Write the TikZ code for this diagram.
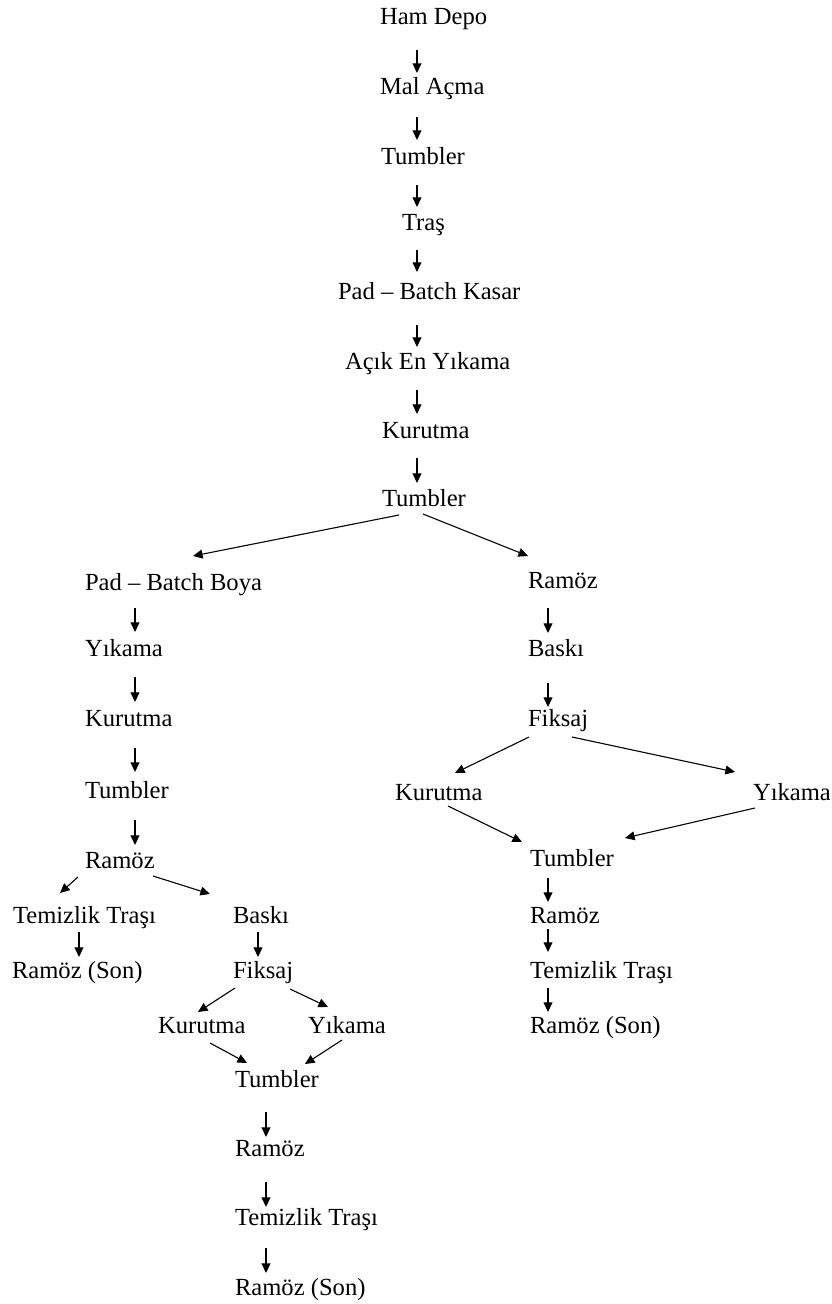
\documentclass[tikz,border=0pt]{standalone}
\usepackage{fontspec}
\setmainfont{Liberation Serif}
\usetikzlibrary{arrows.meta,calc}

% vertical step arrow: #1 from-node, #2 to-node, #3 x offset, #4 gap below source baseline, #5 gap above target baseline
\newcommand{\flowstep}[5]{%
  \draw[arr] ($(#1.base west)+(#3,#4)$) -- ($(#1.base west |- #2.base west)+(#3,-#5)$);}

\begin{document}
\begin{tikzpicture}[x=0.5pt,y=-0.5pt,
  lbl/.style={anchor=base west,inner sep=0pt,outer sep=0pt,
    font=\fontsize{12.3}{14}\selectfont},
  arr/.style={line width=0.55pt,-{Triangle[length=4.8pt,width=4.4pt]}}]
\useasboundingbox (0,0) rectangle (831,1304);

% main trunk
\node[lbl] (hamdepo) at (380,25) {Ham Depo};
\node[lbl] (malacma) at (380,95) {Mal Açma};
\node[lbl] (tumA) at (381,165) {Tumbler};
\node[lbl] (tras) at (402,231) {Traş};
\node[lbl] (kasar) at (338,300) {Pad – Batch Kasar};
\node[lbl] (acik) at (345,370) {Açık En Yıkama};
\node[lbl] (kurA) at (382,438) {Kurutma};
\node[lbl] (tumB) at (382,506) {Tumbler};

\flowstep{hamdepo}{malacma}{37}{25}{22}
\flowstep{malacma}{tumA}{37}{22}{25}
\flowstep{tumA}{tras}{36}{20}{24}
\flowstep{tras}{kasar}{15}{19}{28}
\flowstep{kasar}{acik}{79}{25}{23}
\flowstep{acik}{kurA}{72}{20}{24}
\flowstep{kurA}{tumB}{35}{20}{23}

% left branch
\node[lbl] (boya) at (85,590) {Pad – Batch Boya};
\node[lbl] (yikL) at (85,656) {Yıkama};
\node[lbl] (kurL) at (85,726) {Kurutma};
\node[lbl] (tumL) at (85,798) {Tumbler};
\node[lbl] (ramL) at (85,868) {Ramöz};
\node[lbl] (temL) at (13,923) {Temizlik Traşı};
\node[lbl] (sonL) at (12,978) {Ramöz (Son)};
\node[lbl] (baskiL) at (233,923) {Baskı};
\node[lbl] (fiksL) at (233,978) {Fiksaj};
\node[lbl] (kurLL) at (158,1033) {Kurutma};
\node[lbl] (yikLL) at (308,1033) {Yıkama};
\node[lbl] (tumLL) at (235,1087) {Tumbler};
\node[lbl] (ramLL) at (235,1156) {Ramöz};
\node[lbl] (temLL) at (235,1225) {Temizlik Traşı};
\node[lbl] (sonLL) at (235,1295) {Ramöz (Son)};

\draw[arr] ($(tumB.base west)+(17,9)$) -- ($(boya.base west)+(108,-34)$);
\flowstep{boya}{yikL}{50}{18}{24}
\flowstep{yikL}{kurL}{50}{21}{24}
\flowstep{kurL}{tumL}{50}{22}{26}
\flowstep{tumL}{ramL}{50}{22}{23}
\draw[arr] ($(ramL.base west)+(-7,9)$) -- ($(temL.base west)+(47,-30)$);
\draw[arr] ($(ramL.base west)+(68,8)$) -- ($(baskiL.base west)+(-23,-29)$);
\flowstep{temL}{sonL}{66}{9}{21}
\flowstep{baskiL}{fiksL}{25}{9}{21}
\draw[arr] ($(fiksL.base west)+(2,10)$) -- ($(kurLL.base west)+(40,-21)$);
\draw[arr] ($(fiksL.base west)+(57,11)$) -- ($(yikLL.base west)+(20,-26)$);
\draw[arr] ($(kurLL.base west)+(52,10)$) -- ($(tumLL.base west)+(12,-24)$);
\draw[arr] ($(yikLL.base west)+(34,7)$) -- ($(tumLL.base west)+(70,-23)$);
\flowstep{tumLL}{ramLL}{31}{25}{19}
\flowstep{ramLL}{temLL}{31}{26}{18}
\flowstep{temLL}{sonLL}{31}{23}{22}

% right branch
\node[lbl] (ramR) at (528,588) {Ramöz};
\node[lbl] (baskiR) at (528,656) {Baskı};
\node[lbl] (fiksR) at (528,726) {Fiksaj};
\node[lbl] (kurR) at (395,800) {Kurutma};
\node[lbl] (yikR) at (753,800) {Yıkama};
\node[lbl] (tumR) at (530,866) {Tumbler};
\node[lbl] (ramR2) at (530,923) {Ramöz};
\node[lbl] (temR) at (530,978) {Temizlik Traşı};
\node[lbl] (sonR) at (530,1033) {Ramöz (Son)};

\draw[arr] ($(tumB.base west)+(41,8)$) -- ($(ramR.base west)+(0,-32)$);
\flowstep{ramR}{baskiR}{20}{20}{23}
\flowstep{baskiR}{fiksR}{20}{27}{19}
\draw[arr] ($(fiksR.base west)+(1,11)$) -- ($(kurR.base west)+(60,-27)$);
\draw[arr] ($(fiksR.base west)+(44,11)$) -- ($(yikR.base west)+(-18,-28)$);
\draw[arr] ($(kurR.base west)+(53,6)$) -- ($(tumR.base west)+(-8,-24)$);
\draw[arr] ($(yikR.base west)+(2,8)$) -- ($(tumR.base west)+(95,-28)$);
\flowstep{tumR}{ramR2}{18}{12}{21}
\flowstep{ramR2}{temR}{18}{6}{26}
\flowstep{temR}{sonR}{18}{10}{21}
\end{tikzpicture}
\end{document}
